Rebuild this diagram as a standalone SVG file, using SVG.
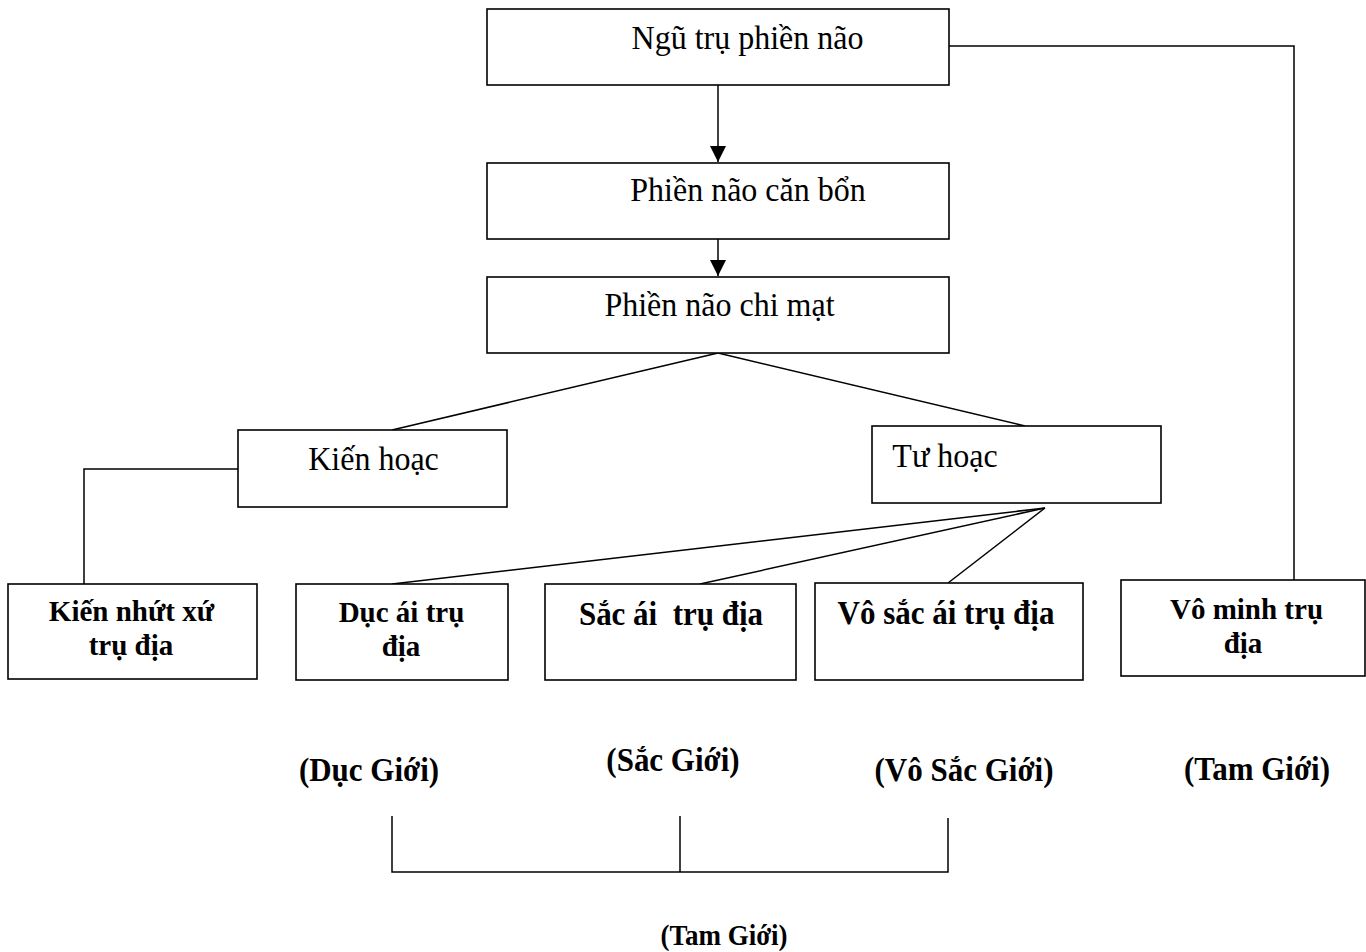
<svg xmlns="http://www.w3.org/2000/svg" width="1366" height="952" viewBox="0 0 1366 952">
<style>
.box{fill:#fff;stroke:#000;stroke-width:1.6}
.ln{fill:none;stroke:#000;stroke-width:1.5}
.r{font-family:"Liberation Serif","Times New Roman",serif;font-size:32px;fill:#000;text-anchor:middle}
.b{font-family:"Liberation Serif","Times New Roman",serif;font-size:31px;font-weight:bold;fill:#000;text-anchor:middle;white-space:pre}
.b2{font-family:"Liberation Serif","Times New Roman",serif;font-size:29px;font-weight:bold;fill:#000;text-anchor:middle}
.bs{font-family:"Liberation Serif","Times New Roman",serif;font-size:27px;font-weight:bold;fill:#000;text-anchor:middle}
</style>
<defs>
<marker id="ah" markerWidth="16" markerHeight="16" refX="16" refY="8" orient="auto" markerUnits="userSpaceOnUse">
<path d="M0,0 L16,8 L0,16 Z" fill="#000"/>
</marker>
</defs>
<rect width="1366" height="952" fill="#fff"/>
<g id="connectors">
<line class="ln" x1="718" y1="85" x2="718" y2="162" marker-end="url(#ah)"/>
<line class="ln" x1="718" y1="239" x2="718" y2="276" marker-end="url(#ah)"/>
<polyline class="ln" points="949,46 1294,46 1294,583"/>
<line class="ln" x1="718" y1="353" x2="392" y2="430"/>
<line class="ln" x1="718" y1="353" x2="1025" y2="426"/>
<polyline class="ln" points="238,469 84,469 84,584"/>
<line class="ln" x1="1045" y1="508" x2="392" y2="584"/>
<line class="ln" x1="1045" y1="508" x2="700" y2="584"/>
<line class="ln" x1="1045" y1="508" x2="948" y2="583"/>
<polyline class="ln" points="392,816 392,872 948,872 948,818"/>
<line class="ln" x1="680" y1="816" x2="680" y2="872"/>
</g>
<g id="n1"><rect class="box" x="487" y="9" width="462" height="76"/><text class="r" transform="translate(747.5 49) scale(1 1.08)">Ngũ trụ phiền não</text></g>
<g id="n2"><rect class="box" x="487" y="163" width="462" height="76"/><text class="r" transform="translate(748 201) scale(1 1.08)">Phiền não căn bổn</text></g>
<g id="n3"><rect class="box" x="487" y="277" width="462" height="76"/><text class="r" transform="translate(719.5 316) scale(1 1.08)">Phiền não chi mạt</text></g>
<g id="n4"><rect class="box" x="238" y="430" width="269" height="77"/><text class="r" transform="translate(373.5 470) scale(1 1.08)">Kiến hoạc</text></g>
<g id="n5"><rect class="box" x="872" y="426" width="289" height="77"/><text class="r" transform="translate(945 467) scale(1 1.08)">Tư hoạc</text></g>
<g id="n6"><rect class="box" x="8" y="584" width="249" height="95"/><text class="b2" x="131.5" y="621">Kiến nhứt xứ</text><text class="b2" x="131" y="655">trụ địa</text></g>
<g id="n7"><rect class="box" x="296" y="584" width="212" height="96"/><text class="b2" x="401.5" y="622">Dục ái trụ</text><text class="b2" x="401" y="656">địa</text></g>
<g id="n8"><rect class="box" x="545" y="584" width="251" height="96"/><text class="b" transform="translate(671 625) scale(1 1.08)">Sắc ái  trụ địa</text></g>
<g id="n9"><rect class="box" x="815" y="583" width="268" height="97"/><text class="b" transform="translate(946 624) scale(1 1.08)">Vô sắc ái trụ địa</text></g>
<g id="n10"><rect class="box" x="1121" y="580" width="244" height="96"/><text class="b2" x="1246.5" y="619">Vô minh trụ</text><text class="b2" x="1243" y="653">địa</text></g>
<g id="labels">
<text class="b" transform="translate(369 781) scale(1 1.08)">(Dục Giới)</text>
<text class="b" transform="translate(673 771) scale(1 1.08)">(Sắc Giới)</text>
<text class="b" transform="translate(964 781) scale(1 1.08)">(Vô Sắc Giới)</text>
<text class="b" transform="translate(1257 780) scale(1 1.08)">(Tam Giới)</text>
<text class="bs" transform="translate(724 945) scale(1 1.08)">(Tam Giới)</text>
</g>
</svg>
